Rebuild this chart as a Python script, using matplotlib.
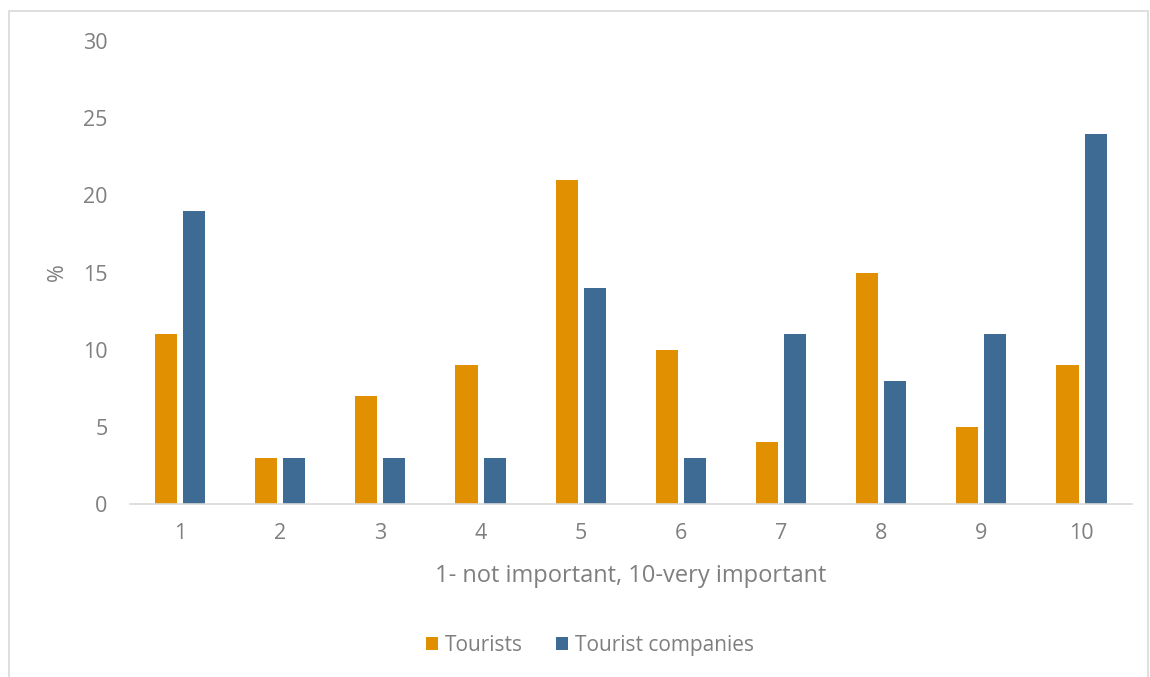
import numpy as np
from matplotlib import pyplot as plt
from matplotlib.patches import Rectangle

categories = ['1', '2', '3', '4', '5', '6', '7', '8', '9', '10']
tourists = [11, 3, 7, 9, 21, 10, 4, 15, 5, 9]
companies = [19, 3, 3, 3, 14, 3, 11, 8, 11, 24]

plt.rcParams['font.family'] = ['Open Sans', 'DejaVu Sans']
grey = '#7f7f7f'

fig = plt.figure(figsize=(11.5, 6.77), dpi=100)
ax = fig.add_axes([0.113, 0.2555, 0.871, 0.6839])

x = np.arange(1, len(categories) + 1)
w = 0.22
ax.bar(x - 0.14, tourists, width=w, color='#e09000', label='Tourists')
ax.bar(x + 0.14, companies, width=w, color='#3d6b94', label='Tourist companies')

ax.set_xlim(0.5, 10.5)
ax.set_ylim(0, 30)
ax.set_yticks(range(0, 31, 5))
ax.set_xticks(x)
ax.set_xticklabels(categories)
ax.tick_params(length=0, labelsize=15.5, colors=grey)
ax.tick_params(axis='y', pad=16)
ax.tick_params(axis='x', pad=14)
for s in ['top', 'right', 'left']:
    ax.spines[s].set_visible(False)
ax.spines['bottom'].set_color('#d9d9d9')
ax.spines['bottom'].set_linewidth(1.2)

ax.set_xlabel('1- not important, 10-very important', fontsize=17, color=grey, labelpad=14)
ax.set_ylabel('%', fontsize=15.5, color=grey, labelpad=11)

ax.legend(loc='center', bbox_to_anchor=(0.459, -0.305), ncol=2, frameon=False,
          fontsize=15, labelcolor=grey, handlelength=0.6, handleheight=0.6,
          handletextpad=0.3, columnspacing=1.6)

fig.patches.append(Rectangle((0.008, -0.01), 0.99, 0.994, transform=fig.transFigure,
                             fill=False, edgecolor='#d9d9d9', linewidth=1.2))

fig.savefig('out.png', dpi=100)
